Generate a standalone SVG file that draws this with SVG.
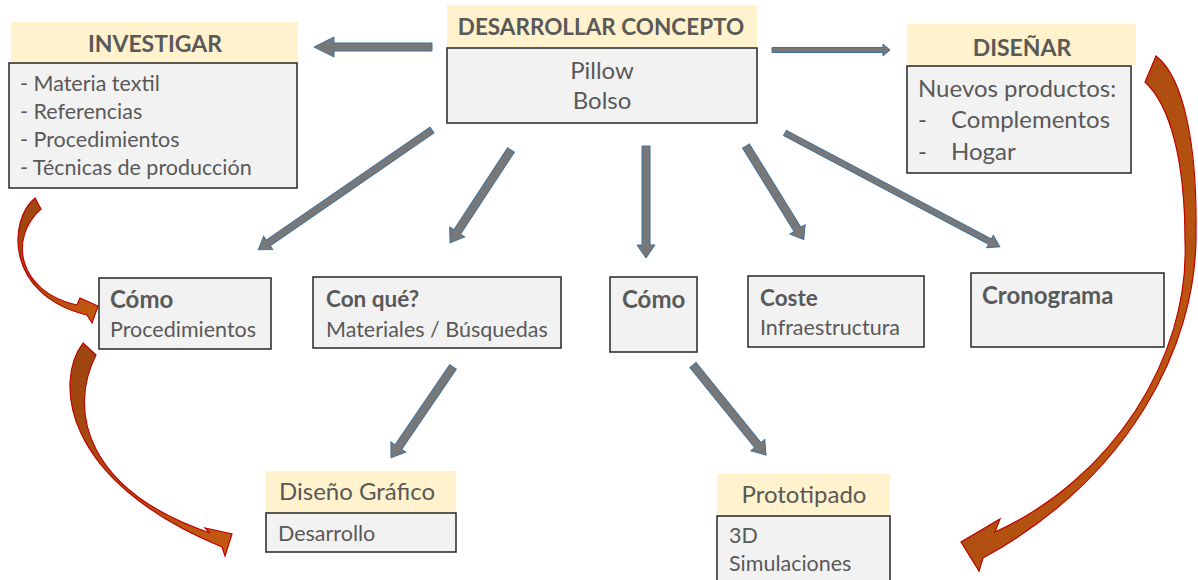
<svg xmlns="http://www.w3.org/2000/svg" width="1198" height="580" viewBox="0 0 1198 580">
<defs>
<style>
.hdr{fill:#FFF2CC;stroke:none}
.box{fill:#F2F2F2;stroke:#262626;stroke-width:1.5}
text{font-family:Lato,"Liberation Sans",sans-serif;fill:#595959}
.h{font-weight:bold;font-size:23px}
.b{font-size:21.5px}
.bl{font-size:24px}
.t{font-weight:bold;font-size:24px}
.t2{font-weight:bold;font-size:22.5px}
.s{font-size:21.5px}
.ga{fill:#787878;stroke:#41719C;stroke-width:1}
.ra{fill:url(#rg);stroke:#C00000;stroke-width:1.2}
</style>
<linearGradient id="rg" x1="0" y1="0" x2="1" y2="1">
<stop offset="0" stop-color="#9A440E"/>
<stop offset="1" stop-color="#C55A11"/>
</linearGradient>
</defs>

<g id="investigar">
<rect class="hdr" x="11" y="22" width="287" height="41"/>
<rect class="box" x="9" y="63" width="288" height="125"/>
<text class="h" x="155" y="52" text-anchor="middle">INVESTIGAR</text>
<text class="b" x="20" y="91">- Materia textil</text>
<text class="b" x="20" y="119">- Referencias</text>
<text class="b" x="20" y="147">- Procedimientos</text>
<text class="b" x="20" y="175">- Técnicas de producción</text>
</g>

<g id="concepto">
<rect class="hdr" x="447" y="5" width="310" height="43"/>
<rect class="box" x="447" y="48" width="310" height="75"/>
<text class="h" x="601" y="35" text-anchor="middle" style="font-size:22.5px">DESARROLLAR CONCEPTO</text>
<text class="bl" x="602" y="79" text-anchor="middle">Pillow</text>
<text class="bl" x="602" y="109" text-anchor="middle">Bolso</text>
</g>

<g id="disenar">
<rect class="hdr" x="907" y="24" width="229" height="41"/>
<rect class="box" x="907" y="66" width="224" height="107"/>
<text class="h" x="1022" y="56" text-anchor="middle">DISEÑAR</text>
<text class="bl" x="918" y="97">Nuevos productos:</text>
<text class="bl" x="918" y="128">-</text>
<text class="bl" x="951" y="128">Complementos</text>
<text class="bl" x="918" y="160">-</text>
<text class="bl" x="951" y="160">Hogar</text>
</g>

<g id="como1">
<rect class="box" x="99" y="278" width="172" height="71"/>
<text class="t" x="110" y="308">Cómo</text>
<text class="s" x="110" y="337">Procedimientos</text>
</g>

<g id="conque">
<rect class="box" x="313" y="277" width="248" height="71"/>
<text class="t2" x="326" y="307">Con qué?</text>
<text class="s" x="326" y="337">Materiales / Búsquedas</text>
</g>

<g id="como2">
<rect class="box" x="610" y="277" width="87" height="75"/>
<text class="t" x="622" y="308">Cómo</text>
</g>

<g id="coste">
<rect class="box" x="748" y="276" width="176" height="71"/>
<text class="t2" x="760" y="306">Coste</text>
<text class="s" x="760" y="335">Infraestructura</text>
</g>

<g id="cronograma">
<rect class="box" x="971" y="273" width="193" height="74"/>
<text class="t" x="982" y="304">Cronograma</text>
</g>

<g id="grafico">
<rect class="hdr" x="266" y="471" width="190" height="42"/>
<rect class="box" x="266" y="513" width="190" height="39"/>
<text class="bl" x="279" y="500">Diseño Gráfico</text>
<text class="s" x="278" y="541">Desarrollo</text>
</g>

<g id="prototipado">
<rect class="hdr" x="717" y="474" width="173" height="42"/>
<rect class="box" x="717" y="516" width="173" height="70"/>
<text class="bl" x="804" y="503" text-anchor="middle">Prototipado</text>
<text class="s" x="729" y="543">3D</text>
<text class="s" x="729" y="571">Simulaciones</text>
</g>

<g id="connectors">
<path class="ga" transform="translate(432,47) rotate(180)" d="M0,-4 L98,-4 L98,-10 L118,0 L98,10 L98,4 L0,4 Z"/>
<path class="ga" transform="translate(772,50) rotate(0)" d="M0,-2.5 L111,-2.5 L111,-6 L118,0 L111,6 L111,2.5 L0,2.5 Z"/>
<path class="ga" transform="translate(432,130) rotate(145.4)" d="M0,-3.5 L199,-3.5 L199,-8 L211,0 L199,8 L199,3.5 L0,3.5 Z"/>
<path class="ga" transform="translate(511,150) rotate(123.3)" d="M0,-4 L98,-4 L98,-9 L111,0 L98,9 L98,4 L0,4 Z"/>
<path class="ga" transform="translate(646,146) rotate(90)" d="M0,-4 L99,-4 L99,-9 L112,0 L99,9 L99,4 L0,4 Z"/>
<path class="ga" transform="translate(746,146) rotate(58.3)" d="M0,-4 L98,-4 L98,-9 L110,0 L98,9 L98,4 L0,4 Z"/>
<path class="ga" transform="translate(785,133) rotate(27.9)" d="M0,-3 L232,-3 L232,-7 L243,0 L232,7 L232,3 L0,3 Z"/>
<path class="ga" transform="translate(453,367) rotate(124.3)" d="M0,-4 L97,-4 L97,-9 L110,0 L97,9 L97,4 L0,4 Z"/>
<path class="ga" transform="translate(693,365) rotate(51)" d="M0,-4 L103,-4 L103,-9 L116,0 L103,9 L103,4 L0,4 Z"/>
<path class="ra" d="M35,198 C8,220 5,295 87,315 L92,323 L98,306 L80,298 L77,305 C18,292 8,238 41,209 Z"/>
<path class="ra" d="M83,343 C55,380 60,480 222,547 L225,556 L232,534 L205,528 L210,533 C85,490 68,410 96,355 Z"/>
<path class="ra" d="M1156,56 C1185,78 1197,150 1196,230 C1198,350 1125,480 983,558 L979,571 L961,542 L1000,519 L995,532 C1110,480 1190,360 1185,240 C1185,160 1170,105 1145,82 Z"/>
</g>
</svg>
